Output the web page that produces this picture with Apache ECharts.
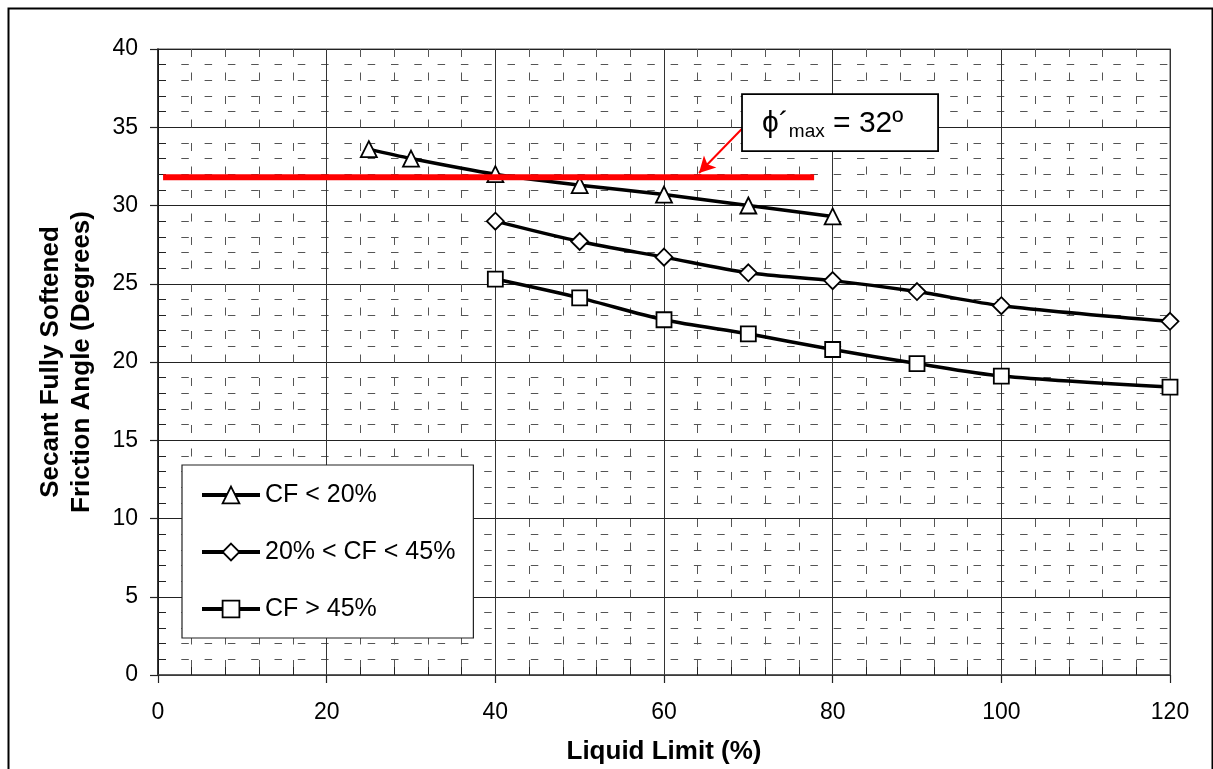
<!DOCTYPE html>
<html>
<head>
<meta charset="utf-8">
<script src="https://cdn.jsdelivr.net/npm/echarts@6/dist/echarts.min.js"></script>
<style>
html,body{margin:0;padding:0;background:#fff;}
#chart{width:1213px;height:769px;}
</style>
</head>
<body>
<div id="chart"></div>
<script>
// ---- data ----
const seriesNames = ['CF < 20%', '20% < CF < 45%', 'CF > 45%'];
const cf20X = [25, 30, 40, 50, 60, 70, 80];
const cf20Y = [33.6, 33.0, 32.0, 31.3, 30.7, 30.0, 29.3];
const cf2045X = [40, 50, 60, 70, 80, 90, 100, 120];
const cf2045Y = [29.0, 27.7, 26.7, 25.7, 25.2, 24.5, 23.6, 22.6];
const cf45X = [40, 50, 60, 70, 80, 90, 100, 120];
const cf45Y = [25.3, 24.1, 22.7, 21.8, 20.8, 19.9, 19.1, 18.4];
const phiLineX = [0.6, 77.8];
const phiLineY = [31.8, 31.8];
const arrowFrom = [69.25, 34.9];
const arrowTo = [64.15, 32.08];
const noteBoxX = [69.25, 92.5];
const noteBoxY = [37.12, 33.48];
const noteText = ['ϕ´', 'max', ' = 32º'];
const xAxisName = 'Liquid Limit (%)';
const yAxisName = 'Secant Fully Softened\nFriction Angle (Degrees)';

const zip = (xs, ys) => xs.map((x, i) => [x, ys[i]]);
const FONT = 'Liberation Sans, Arial, sans-serif';

const chart = echarts.init(document.getElementById('chart'));

function dataSeries(name, xs, ys, symbol, size) {
  return {
    name: name,
    type: 'line',
    data: zip(xs, ys),
    smooth: 0.3,
    symbol: symbol,
    symbolSize: size,
    showAllSymbol: true,
    lineStyle: { color: '#000', width: 3.5 },
    itemStyle: { color: '#fff', borderColor: '#000', borderWidth: 1.8 },
    z: 3
  };
}

const option = {
  backgroundColor: '#fff',
  animation: false,
  grid: {
    left: 158, right: 43, top: 49, bottom: 94,
    outerBoundsMode: 'none',
    containLabel: false,
    show: true, borderColor: '#8a8a8a', borderWidth: 1.5, backgroundColor: 'transparent'
  },
  legend: {
    orient: 'vertical',
    left: 182, top: 465,
    data: seriesNames,
    itemWidth: 58,
    itemHeight: 21,
    itemGap: 29,
    padding: [16, 18, 15, 18],
    backgroundColor: '#fff',
    borderColor: '#222',
    borderWidth: 1.2,
    borderRadius: 0,
    lineStyle: { color: '#000', width: 4 },
    itemStyle: { color: '#fff', borderColor: '#000', borderWidth: 1.8 },
    textStyle: { fontFamily: FONT, fontSize: 25, color: '#000', lineHeight: 28 }
  },
  xAxis: {
    type: 'value', min: 0, max: 120, interval: 20,
    name: xAxisName, nameLocation: 'middle', nameGap: 64,
    nameTextStyle: { fontFamily: FONT, fontSize: 26, fontWeight: 'bold', color: '#000' },
    axisLine: { show: true, onZero: false, lineStyle: { color: '#444', width: 1.5 } },
    axisTick: { show: true, length: 8, lineStyle: { color: '#222', width: 1.2 } },
    minorTick: { show: true, splitNumber: 5, length: -8, lineStyle: { color: '#222', width: 1 } },
    axisLabel: { fontFamily: FONT, fontSize: 23, color: '#000', margin: 26 },
    splitLine: { show: true, lineStyle: { color: '#333', width: 1 } },
    minorSplitLine: { show: true, lineStyle: { color: '#555', width: 1, type: [8, 15.5] } }
  },
  yAxis: {
    type: 'value', min: 0, max: 40, interval: 5,
    name: yAxisName, nameLocation: 'middle', nameGap: 61, nameRotate: 90,
    nameTextStyle: { fontFamily: FONT, fontSize: 26, fontWeight: 'bold', color: '#000', lineHeight: 31 },
    axisLine: { show: true, onZero: false, lineStyle: { color: '#111', width: 1.5 } },
    axisTick: { show: true, length: 8, lineStyle: { color: '#222', width: 1.2 } },
    minorTick: { show: true, splitNumber: 5, length: -8, lineStyle: { color: '#222', width: 1 } },
    axisLabel: { fontFamily: FONT, fontSize: 23, color: '#000', margin: 20, padding: [4, 0, 0, 0] },
    splitLine: { show: true, lineStyle: { color: '#222', width: 1 } },
    minorSplitLine: { show: true, lineStyle: { color: '#555', width: 1, type: [7.5, 15.8] } }
  },
  series: [
    dataSeries(seriesNames[0], cf20X, cf20Y, 'triangle', 16),
    dataSeries(seriesNames[1], cf2045X, cf2045Y, 'diamond', 17),
    dataSeries(seriesNames[2], cf45X, cf45Y, 'rect', 15),
    {
      name: 'phi-max',
      type: 'line',
      data: zip(phiLineX, phiLineY),
      symbol: 'none',
      silent: true,
      lineStyle: { color: '#ff0000', width: 6 },
      z: 4,
      markLine: {
        silent: true,
        symbol: ['none', 'arrow'],
        symbolSize: [13, 16],
        label: { show: false },
        lineStyle: { color: '#ff0000', width: 2, type: 'solid' },
        data: [[{ coord: arrowFrom }, { coord: arrowTo }]]
      }
    },
    {
      name: 'note',
      type: 'custom',
      silent: true,
      z: 6,
      data: [[noteBoxX[0], noteBoxY[0], noteBoxX[1], noteBoxY[1]]],
      renderItem: function (params, api) {
        const p1 = api.coord([api.value(0), api.value(1)]);
        const p2 = api.coord([api.value(2), api.value(3)]);
        return {
          type: 'group',
          children: [
            {
              type: 'rect',
              shape: { x: p1[0], y: p1[1], width: p2[0] - p1[0], height: p2[1] - p1[1] },
              style: { fill: '#fff', stroke: '#000', lineWidth: 1.8 }
            },
            {
              type: 'text',
              style: {
                x: p1[0] + 20,
                y: (p1[1] + p2[1]) / 2 + 1,
                align: 'left',
                verticalAlign: 'middle',
                text: '{a|' + noteText[0] + '}{b|' + noteText[1] + '}{a|' + noteText[2] + '}',
                rich: {
                  a: { fontFamily: FONT, fontSize: 30, color: '#000', lineHeight: 36, verticalAlign: 'middle' },
                  b: { fontFamily: FONT, fontSize: 19, color: '#000', lineHeight: 20, verticalAlign: 'bottom' }
                }
              }
            }
          ]
        };
      }
    }
  ],
  graphic: [
    {
      type: 'rect', left: 6, top: 6, silent: true, z: 0,
      shape: { width: 1204, height: 790 },
      style: { fill: 'none', stroke: '#000', lineWidth: 2 }
    }
  ]
};

chart.setOption(option);
</script>
</body>
</html>
